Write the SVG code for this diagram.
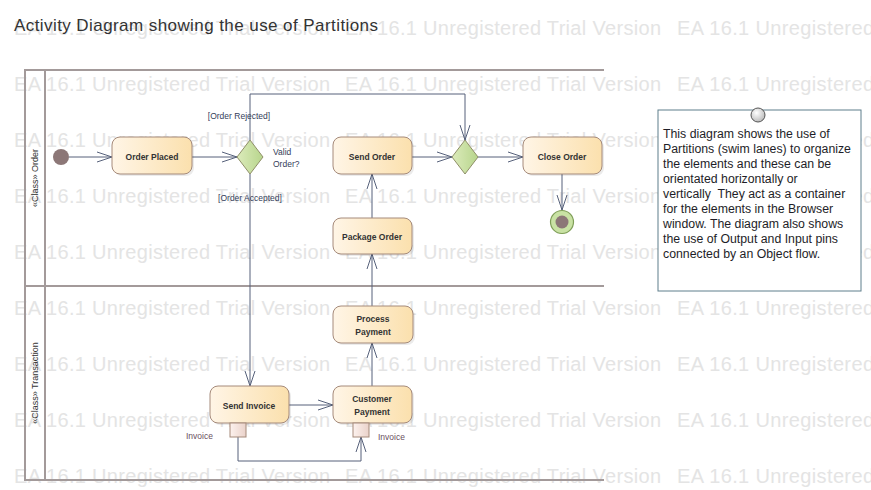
<svg xmlns="http://www.w3.org/2000/svg" width="871" height="490" viewBox="0 0 871 490">
<style>
.wm{font-family:"Liberation Sans",Arial,sans-serif;font-size:20px;fill:#e4e4e4}
.frame{fill:none;stroke:#a39a9a;stroke-width:2}
.act{stroke:#a58a7a;stroke-width:1;fill:url(#gAct)}
.shadow{fill:#000;opacity:0.08}
.lbl{font-family:"Liberation Sans",Arial,sans-serif;font-size:8.5px;font-weight:bold;fill:#333333;text-anchor:middle}
.small{font-family:"Liberation Sans",Arial,sans-serif;font-size:8.5px;fill:#34405a}
.pinlbl{font-family:"Liberation Sans",Arial,sans-serif;font-size:8.5px;fill:#6b5060}
.lane{font-family:"Liberation Sans",Arial,sans-serif;font-size:9px;fill:#333;text-anchor:middle}
.dec{fill:url(#gDec);stroke:#8f8f68;stroke-width:1}
.pin{fill:url(#gPin);stroke:#a58a7a;stroke-width:1}
.arr{fill:none;stroke:#56607a;stroke-width:1;marker-end:url(#open)}
.note{font-family:"Liberation Sans",Arial,sans-serif;font-size:12.3px;fill:#1e1e28}
</style>
<defs>
<linearGradient id="gAct" x1="0" y1="0" x2="1" y2="0">
<stop offset="0" stop-color="#fff5e6"/>
<stop offset="1" stop-color="#fbe0ad"/>
</linearGradient>
<linearGradient id="gDec" x1="0" y1="0" x2="1" y2="0">
<stop offset="0" stop-color="#dcebbb"/>
<stop offset="1" stop-color="#b7d58c"/>
</linearGradient>
<linearGradient id="gPin" x1="0" y1="0" x2="1" y2="0">
<stop offset="0" stop-color="#fdf2ee"/>
<stop offset="1" stop-color="#ead2ca"/>
</linearGradient>
<radialGradient id="gBall" cx="0.4" cy="0.35" r="0.7">
<stop offset="0" stop-color="#ffffff"/>
<stop offset="1" stop-color="#b8b8b8"/>
</radialGradient>
<marker id="open" markerUnits="userSpaceOnUse" markerWidth="18" markerHeight="14" refX="15" refY="6" orient="auto">
<path d="M0,1 L15,6 L0,11" fill="none" stroke="#56607a" stroke-width="1"/>
</marker>
</defs>
<rect x="0" y="0" width="871" height="490" fill="#ffffff"/>
<g id="watermark">
<text class="wm" x="14" y="35" textLength="316">EA 16.1 Unregistered Trial Version</text>
<text class="wm" x="345" y="35" textLength="316">EA 16.1 Unregistered Trial Version</text>
<text class="wm" x="677" y="35" textLength="197">EA 16.1 Unregistered</text>
<text class="wm" x="14" y="91" textLength="316">EA 16.1 Unregistered Trial Version</text>
<text class="wm" x="345" y="91" textLength="316">EA 16.1 Unregistered Trial Version</text>
<text class="wm" x="677" y="91" textLength="197">EA 16.1 Unregistered</text>
<text class="wm" x="14" y="147" textLength="316">EA 16.1 Unregistered Trial Version</text>
<text class="wm" x="345" y="147" textLength="316">EA 16.1 Unregistered Trial Version</text>
<text class="wm" x="677" y="147" textLength="197">EA 16.1 Unregistered</text>
<text class="wm" x="14" y="203" textLength="316">EA 16.1 Unregistered Trial Version</text>
<text class="wm" x="345" y="203" textLength="316">EA 16.1 Unregistered Trial Version</text>
<text class="wm" x="677" y="203" textLength="197">EA 16.1 Unregistered</text>
<text class="wm" x="14" y="259" textLength="316">EA 16.1 Unregistered Trial Version</text>
<text class="wm" x="345" y="259" textLength="316">EA 16.1 Unregistered Trial Version</text>
<text class="wm" x="677" y="259" textLength="197">EA 16.1 Unregistered</text>
<text class="wm" x="14" y="315" textLength="316">EA 16.1 Unregistered Trial Version</text>
<text class="wm" x="345" y="315" textLength="316">EA 16.1 Unregistered Trial Version</text>
<text class="wm" x="677" y="315" textLength="197">EA 16.1 Unregistered</text>
<text class="wm" x="14" y="371" textLength="316">EA 16.1 Unregistered Trial Version</text>
<text class="wm" x="345" y="371" textLength="316">EA 16.1 Unregistered Trial Version</text>
<text class="wm" x="677" y="371" textLength="197">EA 16.1 Unregistered</text>
<text class="wm" x="14" y="427" textLength="316">EA 16.1 Unregistered Trial Version</text>
<text class="wm" x="345" y="427" textLength="316">EA 16.1 Unregistered Trial Version</text>
<text class="wm" x="677" y="427" textLength="197">EA 16.1 Unregistered</text>
<text class="wm" x="14" y="483" textLength="316">EA 16.1 Unregistered Trial Version</text>
<text class="wm" x="345" y="483" textLength="316">EA 16.1 Unregistered Trial Version</text>
<text class="wm" x="677" y="483" textLength="197">EA 16.1 Unregistered</text>
</g>
<text id="title" x="14" y="31" font-family="Liberation Sans, Arial, sans-serif" font-size="17" fill="#333333" textLength="364">Activity Diagram showing the use of Partitions</text>
<g id="partitions">
<path class="frame" d="M604,70 L25,70 L25,480 L604,480 M45,70 L45,480 M25,286 L604,286"/>
<text class="lane" transform="translate(38,178) rotate(-90)">«Class» Order</text>
<text class="lane" transform="translate(38,383) rotate(-90)">«Class» Transaction</text>
</g>
<g id="connectors">
<path class="arr" d="M69,157 L112,157"/>
<path class="arr" d="M192,157 L237,157"/>
<path class="arr" d="M250,140 L250,94 L465,94 L465,140"/>
<path class="arr" d="M250,174 L250,386"/>
<path class="arr" d="M412,157 L452,157"/>
<path class="arr" d="M478,157 L523,157"/>
<path class="arr" d="M562,174 L562,210"/>
<path class="arr" d="M372,218 L372,174"/>
<path class="arr" d="M372,306 L372,254"/>
<path class="arr" d="M372,386 L372,343"/>
<path class="arr" d="M289,405 L333,405"/>
<path class="arr" d="M238,437 L238,461 L361,461 L361,437"/>
<text class="small" x="239" y="119" text-anchor="middle">[Order Rejected]</text>
<text class="small" x="250" y="201" text-anchor="middle">[Order Accepted]</text>
</g>
<g id="initial">
<circle cx="61" cy="157" r="8" fill="#8c7777"/>
</g>
<g id="orderPlaced">
<rect class="shadow" x="114" y="139" width="80" height="37" rx="8"/>
<rect class="act" x="112" y="137" width="80" height="37" rx="8"/>
<text class="lbl" x="152" y="160">Order Placed</text>
</g>
<g id="validOrder">
<polygon class="dec" points="250,140 263,157 250,174 237,157"/>
<text class="small" x="273" y="155">Valid</text>
<text class="small" x="273" y="167">Order?</text>
</g>
<g id="sendOrder">
<rect class="shadow" x="335" y="139" width="79" height="37" rx="8"/>
<rect class="act" x="333" y="137" width="79" height="37" rx="8"/>
<text class="lbl" x="372" y="160">Send Order</text>
</g>
<g id="merge">
<polygon class="dec" points="465,140 478,157 465,174 452,157"/>
</g>
<g id="closeOrder">
<rect class="shadow" x="525" y="139" width="79" height="37" rx="8"/>
<rect class="act" x="523" y="137" width="79" height="37" rx="8"/>
<text class="lbl" x="562" y="160">Close Order</text>
</g>
<g id="final">
<circle cx="562" cy="222" r="11.5" fill="#c9e2a4" stroke="#7f9e58" stroke-width="1.2"/>
<circle cx="562" cy="222" r="6.5" fill="#8c7777"/>
</g>
<g id="packageOrder">
<rect class="shadow" x="335" y="220" width="79" height="36" rx="8"/>
<rect class="act" x="333" y="218" width="79" height="36" rx="8"/>
<text class="lbl" x="372" y="240">Package Order</text>
</g>
<g id="processPayment">
<rect class="shadow" x="335" y="308" width="80" height="37" rx="8"/>
<rect class="act" x="333" y="306" width="80" height="37" rx="8"/>
<text class="lbl" x="373" y="322">Process</text>
<text class="lbl" x="373" y="335">Payment</text>
</g>
<g id="sendInvoice">
<rect class="shadow" x="212" y="388" width="79" height="37" rx="8"/>
<rect class="act" x="210" y="386" width="79" height="37" rx="8"/>
<text class="lbl" x="249" y="409">Send Invoice</text>
<rect class="pin" x="230" y="423" width="16" height="14"/>
<text class="pinlbl" x="186" y="439">Invoice</text>
</g>
<g id="customerPayment">
<rect class="shadow" x="335" y="388" width="79" height="37" rx="8"/>
<rect class="act" x="333" y="386" width="79" height="37" rx="8"/>
<text class="lbl" x="372" y="402">Customer</text>
<text class="lbl" x="372" y="415">Payment</text>
<rect class="pin" x="353" y="423" width="16" height="14"/>
<text class="pinlbl" x="378" y="440">Invoice</text>
</g>
<g id="note">
<rect x="658" y="110" width="203" height="181" fill="#ffffff" stroke="#5f7f8c" stroke-width="1"/>
<circle cx="758" cy="115" r="7" fill="url(#gBall)" stroke="#555" stroke-width="1"/>
<text class="note" x="663" y="138">This diagram shows the use of</text>
<text class="note" x="663" y="153">Partitions (swim lanes) to organize</text>
<text class="note" x="663" y="168">the elements and these can be</text>
<text class="note" x="663" y="183">orientated horizontally or</text>
<text class="note" x="663" y="198">vertically&#160; They act as a container</text>
<text class="note" x="663" y="213">for the elements in the Browser</text>
<text class="note" x="663" y="228">window. The diagram also shows</text>
<text class="note" x="663" y="243">the use of Output and Input pins</text>
<text class="note" x="663" y="258">connected by an Object flow.</text>
</g>
</svg>
